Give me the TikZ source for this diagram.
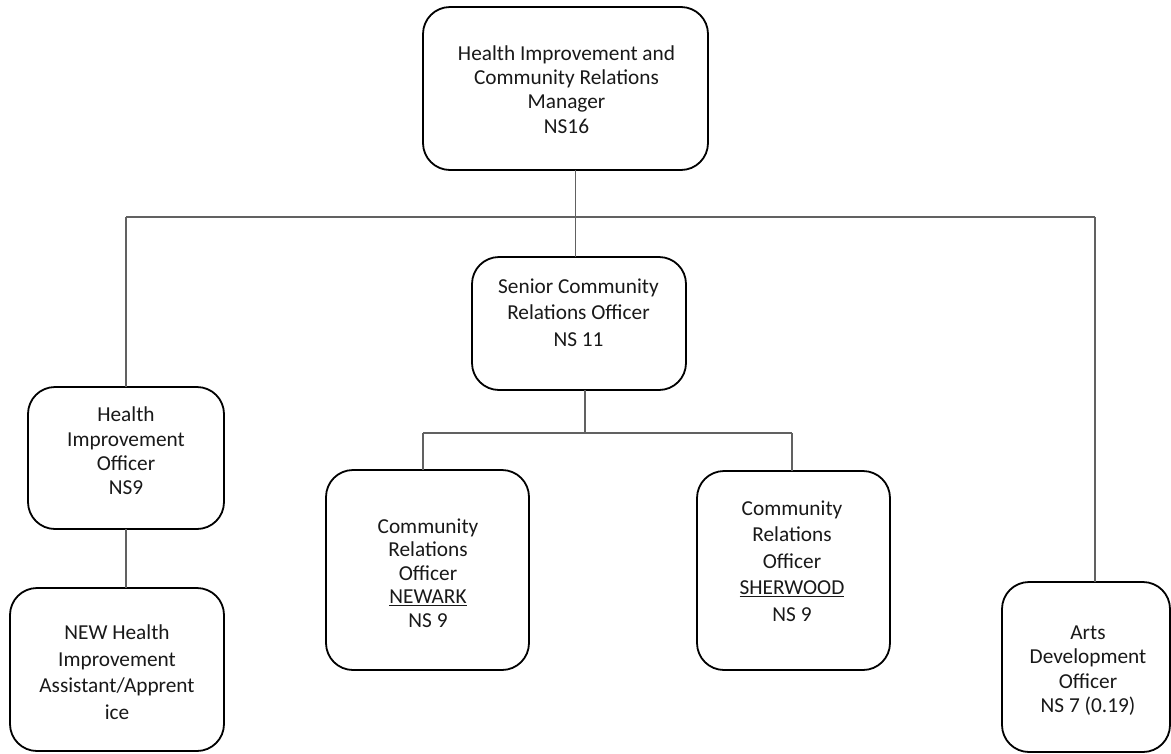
\documentclass[tikz,border=0pt]{standalone}
\usepackage{fontspec}
\setmainfont{Carlito}
\begin{document}
\begin{tikzpicture}[x=1pt,y=-1pt,
  box/.style={draw=black,line width=1.8pt,rounded corners=27pt,inner sep=0pt,outer sep=0pt},
  lbl/.style={align=center,inner sep=0pt,text=black!90,font=\fontsize{21.3}{24.3}\selectfont},
  lblw/.style={lbl,font=\fontsize{21.3}{26.6}\selectfont},
  conn/.style={draw=black!62,line width=1.2pt}]
\clip (0,0) rectangle (1171,753);
\fill[white] (0,0) rectangle (1171,753);
% boxes
\node[box,minimum width=285pt,minimum height=163pt] (top) at (565.5,88.5) {};
\node[box,minimum width=214pt,minimum height=133pt] (senior) at (579,323.5) {};
\node[box,minimum width=196pt,minimum height=142pt] (hio) at (126,458) {};
\node[box,minimum width=214pt,minimum height=163pt] (new) at (117,669.5) {};
\node[box,minimum width=203pt,minimum height=200pt] (newark) at (427.5,570) {};
\node[box,minimum width=193pt,minimum height=199pt] (sher) at (793.5,570.5) {};
\node[box,minimum width=168pt,minimum height=170pt] (arts) at (1086,667) {};
% labels
\node[lbl] (ttop) at (566.5,89.5) {Health Improvement and\\Community Relations\\Manager\\NS16};
\node[lblw] (tsenior) at (578.5,312.5) {Senior Community\\Relations Officer\\NS 11};
\node[lbl] (thio) at (126,451) {Health\\Improvement\\Officer\\NS9};
\node[lblw] (tnew) at (117,672) {NEW Health\\Improvement\\Assistant/Apprent\\ice};
\node[lbl,font=\fontsize{21.3}{23.6}\selectfont] (tnewark) at (428,573) {Community\\Relations\\Officer\\\underline{NEWARK}\\NS 9};
\node[lblw] (tsher) at (792,561) {Community\\Relations\\Officer\\\underline{SHERWOOD}\\NS 9};
\node[lbl] (tarts) at (1088,670.5) {Arts\\Development\\Officer\\NS 7 (0.19)};
% junctions
\coordinate (jT) at (575.5,217);
\coordinate (jL) at (126,217);
\coordinate (jR) at (1095,217);
\coordinate (jB) at (585,433);
\coordinate (jN) at (423,433);
\coordinate (jW) at (792,433);
% connectors
\draw[conn] (top.south -| jT) -- (jT);
\draw[conn] (jL) -- (jR);
\draw[conn] (jL) -- (hio.north);
\draw[conn] (jR) -- (arts.north -| jR);
\draw[conn] (jT) -- (senior.north -| jT);
\draw[conn] (senior.south -| jB) -- (jB);
\draw[conn] (jN) -- (jW);
\draw[conn] (jN) -- (newark.north -| jN);
\draw[conn] (jW) -- (sher.north -| jW);
\draw[conn] (hio.south) -- (new.north -| hio.south);
\end{tikzpicture}
\end{document}
